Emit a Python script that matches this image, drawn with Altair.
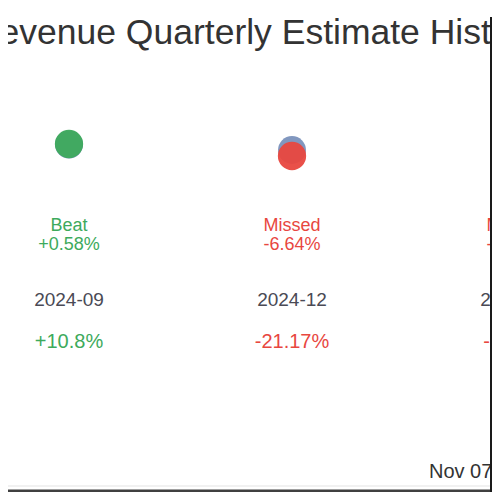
import altair as alt
import pandas as pd

# ---- data ----
periods = ["2024-09", "2024-12", "2025-03"]
idx = [0, 1, 2]
estimates = [106.02, 100.0, 112.0]
actuals = [106.64, 93.36, 109.4]
status = ["Beat", "Missed", "Missed"]
surprise = ["+0.58%", "-6.64%", "-2.32%"]
growth = ["+10.8%", "-21.17%", "-31.4%"]

title_text = "Revenue Quarterly Estimate History"
date_text = "Nov 07, 2025"

df = pd.DataFrame({
    "idx": idx, "period": periods, "estimate": estimates, "actual": actuals,
    "status": status, "surprise": surprise, "growth": growth,
})

FONT = "Liberation Sans"
GREEN = "#3daa5c"
RED = "#e8473f"
GREEN_T = "#4cae5a"
RED_T = "#e84a3f"
EST = "#8197bf"

W = H = 484
xs = alt.X("idx:Q", scale=alt.Scale(domain=[-0.27354, 1.89686], nice=False, zero=False), axis=None)
ysc = alt.Scale(domain=[-278.49, 257.15], nice=False, zero=False)
col_scale = alt.Scale(domain=["Beat", "Missed"], range=[GREEN_T, RED_T])

base = alt.Chart(df)

est_dots = base.mark_circle(size=780, opacity=1, color=EST, clip=True).encode(
    x=xs, y=alt.Y("estimate:Q", scale=ysc, axis=None))
act_dots = base.mark_circle(size=800, opacity=0.95, clip=True).encode(
    x=xs, y=alt.Y("actual:Q", scale=ysc, axis=None),
    color=alt.Color("status:N", scale=alt.Scale(domain=["Beat", "Missed"], range=[GREEN, RED]), legend=None))

status_txt = base.mark_text(font=FONT, fontSize=18, baseline="middle").encode(
    x=xs, y=alt.value(218), text="status:N",
    color=alt.Color("status:N", scale=col_scale, legend=None))
surprise_txt = base.mark_text(font=FONT, fontSize=18, baseline="middle").encode(
    x=xs, y=alt.value(237), text="surprise:N",
    color=alt.Color("status:N", scale=col_scale, legend=None))
period_txt = base.mark_text(font=FONT, fontSize=19, baseline="middle", color="#4a4a55").encode(
    x=xs, y=alt.value(292), text="period:N")
growth_txt = base.mark_text(font=FONT, fontSize=20, baseline="middle").encode(
    x=xs, y=alt.value(334), text="growth:N",
    color=alt.Color("status:N", scale=col_scale, legend=None))

tdf = pd.DataFrame({"t": [title_text]})
title = alt.Chart(tdf).mark_text(font=FONT, fontSize=35.5, align="center", baseline="alphabetic",
                                 color="#333333").encode(
    x=alt.value(249), y=alt.value(36), text="t:N")

ddf = pd.DataFrame({"t": [date_text]})
date = alt.Chart(ddf).mark_text(font=FONT, fontSize=20, align="left", baseline="middle",
                                color="#333333").encode(
    x=alt.value(421), y=alt.value(464), text="t:N")

bot_light = alt.Chart(tdf).mark_rule(color="#ececec", strokeWidth=1.5).encode(
    x=alt.value(0), x2=alt.value(482), y=alt.value(478))
bot_dark = alt.Chart(tdf).mark_rule(color="#404040", strokeWidth=2.5).encode(
    x=alt.value(0), x2=alt.value(484), y=alt.value(482.75))
right_line = alt.Chart(tdf).mark_rule(color="#1a1a1a", strokeWidth=2).encode(
    x=alt.value(483), y=alt.value(9), y2=alt.value(484))

chart = alt.layer(
    title, est_dots, act_dots, status_txt, surprise_txt, period_txt, growth_txt,
    date, bot_light, bot_dark, right_line
).properties(
    width=W, height=H, autosize="none", padding=0,
).configure_view(stroke=None)

chart.save("out.html", embed_options={"renderer": "svg", "actions": False})
